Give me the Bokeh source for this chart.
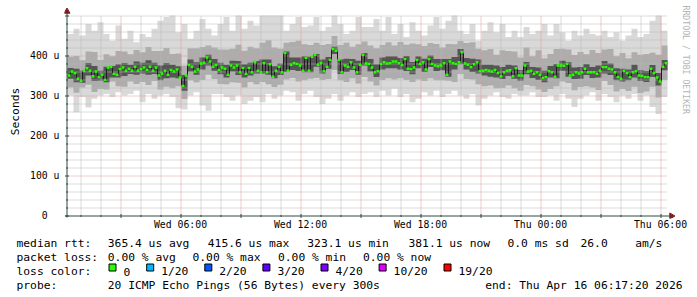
from bokeh.plotting import figure
from bokeh.models import Range1d, FixedTicker, Title
from bokeh.layouts import column
from bokeh.embed import file_html
from bokeh.resources import INLINE
from bokeh.core.properties import value

# ---------------- data ----------------
START_H = 0.35      # graph start, hours after Wed 00:00
SPAN_H = 30.0       # hours shown

MEDIAN_US = [
    350, 360, 356, 342, 337, 362, 368, 362, 348, 360, 346, 352, 339, 370, 372, 354, 352, 366, 370, 362,
    367, 362, 372, 362, 366, 370, 364, 372, 362, 370, 350, 355, 362, 352, 364, 360, 365, 345, 324, 350,
    376, 372, 360, 365, 380, 382, 395, 385, 372, 376,
    364, 370, 367, 352, 375, 370, 375, 358, 369, 354, 369, 358, 383, 362, 358, 381, 358, 378, 347, 362,
    372, 358, 406, 362, 377, 381, 379, 375, 362, 394, 362, 397, 402, 377, 381, 361, 372, 389, 416, 412,
    389, 358, 375, 372, 383, 370, 358, 377, 402, 380,
    379, 370, 358, 361, 379, 383, 380, 381, 385, 385, 381, 376, 391, 367, 366, 370, 389, 379, 383, 365,
    391, 379, 375, 373, 375, 381, 352, 385, 381, 379, 383, 408, 380, 377, 371, 378, 383, 361, 362, 364,
    362, 360, 364, 356, 348, 358, 362, 363, 348, 368,
    350, 350, 375, 360, 362, 354, 358, 352, 344, 346, 361, 358, 347, 375, 375, 374, 379, 350, 352, 358,
    355, 358, 367, 358, 358, 358, 354, 362, 371, 371, 367, 365, 358, 346, 342, 362, 356, 346, 358, 361,
    350, 349, 346, 346, 367, 356, 345, 335, 372, 381,
]

SMOKE_OUTER_HI = [
    454, 467, 450, 479, 462, 483, 454, 437, 475, 442, 462, 433, 454, 446, 467, 487, 496, 500, 458, 479, 442, 462, 491, 467, 450,
    479, 496, 462, 500, 467, 487, 475, 500, 500, 500, 500, 462, 479, 496, 471, 475, 496, 462, 471, 500, 479, 454, 462, 496, 471,
    471, 491, 462, 496, 454, 479, 446, 483, 462, 450, 475, 496, 467, 487, 500, 462, 454, 479, 437, 462, 483, 458, 479, 446, 462,
    446, 471, 454, 462, 479, 450, 479, 458, 437, 462, 450, 467, 454, 450, 462, 446, 458, 437, 450, 467, 446, 454, 487, 500, 462,
]
SMOKE_OUTER_LO = [
    300, 258, 296, 270, 292, 300, 304, 296, 308, 300, 304, 312, 283, 304, 292, 300, 304, 296, 268, 265, 300, 308, 275, 262, 304,
    304, 296, 287, 300, 279, 287, 296, 283, 304, 292, 300, 312, 308, 287, 304, 312, 296, 279, 292, 304, 287, 300, 308, 296, 304,
    308, 296, 312, 300, 317, 296, 304, 283, 292, 308, 300, 312, 296, 304, 312, 300, 292, 304, 275, 292, 300, 308, 296, 292, 304,
    300, 300, 308, 296, 296, 300, 287, 304, 292, 271, 292, 300, 308, 287, 304, 296, 283, 300, 292, 304, 287, 300, 271, 254, 296,
]
SMOKE_MID_HI = [
    397, 399, 388, 410, 409, 389, 403, 398, 411, 410, 403, 414, 408, 421, 411, 411, 419, 404, 405, 375, 418, 418, 421, 425, 420,
    415, 415, 417, 427, 412, 422, 418, 432, 438, 420, 417, 432, 434, 437, 428, 426, 432, 426, 429, 449, 426, 432, 422, 428, 435,
    425, 418, 426, 433, 425, 434, 427, 430, 428, 424, 431, 429, 420, 429, 428, 436, 431, 433, 417, 413, 416, 402, 413, 411, 410,
    395, 420, 398, 413, 393, 404, 416, 417, 415, 401, 409, 403, 414, 406, 415, 416, 398, 406, 393, 408, 402, 404, 407, 402, 425,
]
SMOKE_MID_LO = [
    320, 307, 320, 327, 309, 316, 315, 335, 323, 322, 335, 329, 334, 326, 336, 315, 322, 318, 323, 291, 338, 333, 339, 352, 341,
    329, 328, 333, 332, 320, 334, 328, 334, 328, 321, 327, 340, 344, 335, 338, 342, 344, 339, 341, 364, 338, 334, 343, 330, 346,
    335, 325, 339, 343, 340, 343, 339, 334, 340, 336, 343, 338, 338, 337, 334, 354, 341, 340, 328, 323, 325, 318, 319, 325, 318,
    312, 326, 323, 315, 309, 316, 323, 335, 331, 313, 321, 323, 320, 314, 336, 326, 310, 316, 311, 322, 306, 310, 322, 295, 339,
]
SMOKE_INNER_HI = [
    369, 367, 362, 381, 374, 362, 372, 374, 378, 381, 377, 385, 382, 388, 382, 375, 381, 377, 373, 351, 390, 383, 395, 402, 391,
    382, 377, 387, 386, 378, 382, 386, 390, 390, 373, 380, 410, 395, 395, 398, 397, 404, 390, 396, 422, 390, 392, 391, 387, 406,
    391, 378, 395, 398, 398, 394, 399, 384, 398, 392, 400, 391, 391, 391, 396, 416, 394, 392, 390, 377, 377, 375, 371, 377, 375,
    364, 384, 371, 370, 362, 374, 379, 387, 383, 370, 371, 379, 371, 375, 386, 380, 368, 367, 365, 377, 363, 361, 376, 356, 389,
]
SMOKE_INNER_LO = [
    342, 333, 332, 350, 336, 337, 333, 345, 345, 349, 354, 352, 355, 352, 354, 338, 343, 345, 343, 312, 360, 352, 365, 375, 362,
    353, 345, 360, 351, 345, 350, 355, 355, 352, 343, 351, 359, 364, 361, 358, 358, 372, 355, 367, 404, 354, 359, 364, 352, 375,
    360, 346, 365, 368, 368, 365, 361, 353, 368, 359, 371, 361, 363, 347, 365, 378, 365, 359, 355, 350, 347, 345, 341, 349, 342,
    337, 353, 344, 339, 333, 345, 343, 362, 347, 341, 342, 351, 344, 345, 355, 351, 338, 335, 338, 345, 336, 334, 346, 325, 363,
]

X_TICK_HOURS = [6, 12, 18, 24, 30]
X_TICK_LABELS = ["Wed 06:00", "Wed 12:00", "Wed 18:00", "Thu 00:00", "Thu 06:00"]
Y_TICK_US = [0, 100, 200, 300, 400]
Y_TICK_LABELS = ["0\u00a0\u00a0", "100 u", "200 u", "300 u", "400 u"]
Y_MAX_US = 500
Y_TITLE = "Seconds"

RTT_AVG, RTT_MAX, RTT_MIN, RTT_NOW = 365.4, 415.6, 323.1, 381.1
RTT_SD_MS = 0.0
RTT_AM = 26.0
LOSS_AVG, LOSS_MAX, LOSS_MIN, LOSS_NOW = 0.0, 0.0, 0.0, 0.0
LOSS_LABELS = ["0", "1/20", "2/20", "3/20", "4/20", "10/20", "19/20"]
LOSS_COLORS = ["#26ff00", "#00b8ff", "#0059ff", "#5e00ff", "#7e00ff", "#dd00ff", "#ff0000"]
PROBE_TEXT = "20 ICMP Echo Pings (56 Bytes) every 300s"
END_TEXT = "end: Thu Apr 16 06:17:20 2026"
CREDIT = "RRDTOOL / TOBI OETIKER"

# ---------------- layout ----------------
W = 697
TOP_H = 236
LEG_H = 297 - TOP_H
PX_H = 20.0     # px per hour
PX_U = 0.4      # px per microsecond
GX0, GY0 = 67, 215
FL, FR, FT, FB = 64, 680, 4, 218
MONO = "DejaVu Sans Mono"
AXIS_COL = "#2c4d43"
ARROW_COL = "#7f1f1f"
GRID_COL = "#b8b8b8"
MGRID_COL = "#e09a9a"

def hx(px):
    return START_H + (px - GX0) / PX_H

def uy(py):
    return (GY0 - py) / PX_U

p = figure(width=W, height=TOP_H, output_backend="svg", toolbar_location=None,
           x_range=Range1d(hx(FL), hx(FR)), y_range=Range1d(uy(FB), uy(FT)),
           min_border_left=FL, min_border_right=W - FR, min_border_top=FT,
           min_border_bottom=TOP_H - FB,
           background_fill_color="white", border_fill_color="white",
           outline_line_color=None)
p.frame_align = False
p.xgrid.visible = False
p.ygrid.visible = False

# smoke bands
def step_xy(vals):
    n = len(vals)
    xs = [START_H + SPAN_H * i / n for i in range(n + 1)]
    ys = list(vals) + [vals[-1]]
    return xs, ys

for hi, lo, col in [(SMOKE_OUTER_HI, SMOKE_OUTER_LO, "#d9d9d9"),
                    (SMOKE_MID_HI, SMOKE_MID_LO, "#adadad"),
                    (SMOKE_INNER_HI, SMOKE_INNER_LO, "#555555")]:
    xs, y1 = step_xy(lo)
    _, y2 = step_xy(hi)
    p.varea_step(x=xs, y1=y1, y2=y2, step_mode="after", fill_color=col)

# grid (drawn over the smoke, like rrdtool)
half_h = 0.5 / PX_H
half_u = 0.5 / PX_U
hours = list(range(1, 31))
minor_v = [h + half_h for h in hours if h % 3]
major_v = [h + half_h for h in hours if h % 3 == 0]
levels = list(range(20, Y_MAX_US + 1, 20))
minor_h = [u - half_u for u in levels if u % 100 or u == Y_MAX_US]
major_h = [u - half_u for u in levels if u % 100 == 0 and u < Y_MAX_US]
x_end = START_H + SPAN_H
p.segment(x0=minor_v, y0=[0] * len(minor_v), x1=minor_v, y1=[Y_MAX_US] * len(minor_v),
          line_color=GRID_COL, line_width=1, line_dash="1 1")
p.segment(x0=[START_H] * len(minor_h), y0=minor_h, x1=[x_end] * len(minor_h), y1=minor_h,
          line_color=GRID_COL, line_width=1, line_dash="1 1")
p.segment(x0=major_v, y0=[0] * len(major_v), x1=major_v, y1=[Y_MAX_US] * len(major_v),
          line_color=MGRID_COL, line_width=1, line_dash="1 1")
p.segment(x0=[START_H] * len(major_h), y0=major_h, x1=[x_end] * len(major_h), y1=major_h,
          line_color=MGRID_COL, line_width=1, line_dash="1 1")

# median line + loss-coloured blocks
mx, my = step_xy(MEDIAN_US)
p.step(x=mx, y=my, mode="after", line_color="#1e1e1e", line_width=1)
dm = SPAN_H / len(MEDIAN_US)
m_left = [START_H + i * dm for i in range(len(MEDIAN_US))]
m_right = [l + dm for l in m_left]
p.quad(left=m_left, right=m_right, top=[m + 3 for m in MEDIAN_US],
       bottom=[m - 3 for m in MEDIAN_US], fill_color=LOSS_COLORS[0], line_color=None)

# axis rules, tick marks and arrows (rrdtool style, inside the frame)
ax_x = hx(66.5)
ax_y = -half_u
p.segment(x0=[ax_x], y0=[uy(217)], x1=[ax_x], y1=[uy(12.5)], line_color=AXIS_COL, line_width=1)
p.segment(x0=[hx(64.5)], y0=[ax_y], x1=[hx(669)], y1=[ax_y], line_color=AXIS_COL, line_width=1)
yt = [0] + levels
yt_len = [2 if u % 100 == 0 else 1 for u in yt]
p.segment(x0=[ax_x - l / PX_H for l in yt_len], y0=[u - half_u for u in yt],
          x1=[ax_x + l / PX_H for l in yt_len], y1=[u - half_u for u in yt],
          line_color=AXIS_COL, line_width=1)
xt_len = [2 if h % 3 == 0 else 1 for h in hours]
p.segment(x0=[h + half_h for h in hours], y0=[ax_y - l / PX_U for l in xt_len],
          x1=[h + half_h for h in hours], y1=[ax_y + l / PX_U for l in xt_len],
          line_color=AXIS_COL, line_width=1)
p.scatter(x=[ax_x], y=[uy(11)], marker="triangle", size=6, color=ARROW_COL)
p.scatter(x=[hx(671)], y=[ax_y], marker="triangle", size=6, angle=-1.5708, color=ARROW_COL)

# Bokeh axes carry the tick labels
xa = p.xaxis[0]
xa.ticker = FixedTicker(ticks=X_TICK_HOURS)
xa.major_label_overrides = dict(zip(X_TICK_HOURS, X_TICK_LABELS))
xa.major_label_standoff = 0
ya = p.yaxis[0]
ya.ticker = FixedTicker(ticks=Y_TICK_US)
ya.major_label_overrides = dict(zip(Y_TICK_US, Y_TICK_LABELS))
ya.major_label_standoff = 5
for ax in (xa, ya):
    ax.axis_line_color = None
    ax.major_tick_line_color = None
    ax.minor_tick_line_color = None
    ax.major_tick_in = 0
    ax.major_tick_out = 0
    ax.minor_tick_in = 0
    ax.minor_tick_out = 0
    ax.major_label_text_font = MONO
    ax.major_label_text_font_size = "9.8px"
    ax.major_label_text_color = "#000000"

# vertical unit title on the left, credit on the right
ytitle = Title(text=Y_TITLE, align="center", text_font=MONO, text_font_size="11.3px",
               text_font_style="normal", text_color="#000000", standoff=12, offset=-19)
p.add_layout(ytitle, "left")
credit = Title(text=CREDIT, align="left", text_font=MONO, text_font_size="8.2px",
               text_font_style="normal", text_color="#b4b4b4", standoff=0, offset=1)
p.add_layout(credit, "right")

# ---------------- legend ----------------
q = figure(width=W, height=LEG_H, output_backend="svg", toolbar_location=None,
           x_range=Range1d(0, W), y_range=Range1d(297, TOP_H),
           x_axis_location=None, y_axis_location=None, min_border=0,
           background_fill_color="white", border_fill_color="white",
           outline_line_color=None)
q.frame_align = False
q.grid.visible = False

BL = [242.5, 257, 271, 285]
items = [
    ("median rtt:", 16, BL[0]),
    (f"{RTT_AVG:.1f} us avg", 107.3, BL[0]),
    (f"{RTT_MAX:.1f} us max", 207.3, BL[0]),
    (f"{RTT_MIN:.1f} us min", 306.8, BL[0]),
    (f"{RTT_NOW:.1f} us now", 408, BL[0]),
    (f"{RTT_SD_MS:.1f} ms sd", 507, BL[0]),
    (f"{RTT_AM:.1f}", 580, BL[0]),
    ("am/s", 634.7, BL[0]),
    ("packet loss:", 16, BL[1]),
    (f"{LOSS_AVG:.2f} % avg", 107.3, BL[1]),
    (f"{LOSS_MAX:.2f} % max", 192, BL[1]),
    (f"{LOSS_MIN:.2f} % min", 277.5, BL[1]),
    (f"{LOSS_NOW:.2f} % now", 362.5, BL[1]),
    ("loss color:", 16, BL[2]),
    ("probe:", 16, BL[3]),
    (PROBE_TEXT, 107.3, BL[3]),
]
BOX_X = [108, 145.7, 203.8, 261.9, 320, 378.1, 443]
for lab, bx in zip(LOSS_LABELS, BOX_X):
    items.append((lab, bx + 15, BL[2]))

q.text(x=[it[1] for it in items], y=[it[2] for it in items], text=[it[0] for it in items],
       text_font=value(MONO), text_font_size="11.3px", text_color="#000000",
       text_baseline="alphabetic", text_align="left")
q.text(x=[682], y=[BL[3]], text=[END_TEXT], text_font=value(MONO), text_font_size="11.3px",
       text_color="#000000", text_baseline="alphabetic", text_align="right")
q.quad(left=[b + 0.5 for b in BOX_X], right=[b + 7.5 for b in BOX_X],
       top=[BL[2] - 7.5] * len(BOX_X), bottom=[BL[2] - 0.5] * len(BOX_X),
       fill_color=LOSS_COLORS, line_color="#000000", line_width=1)

layout = column(p, q, spacing=0)
open("out.html", "w").write(file_html(layout, INLINE))
